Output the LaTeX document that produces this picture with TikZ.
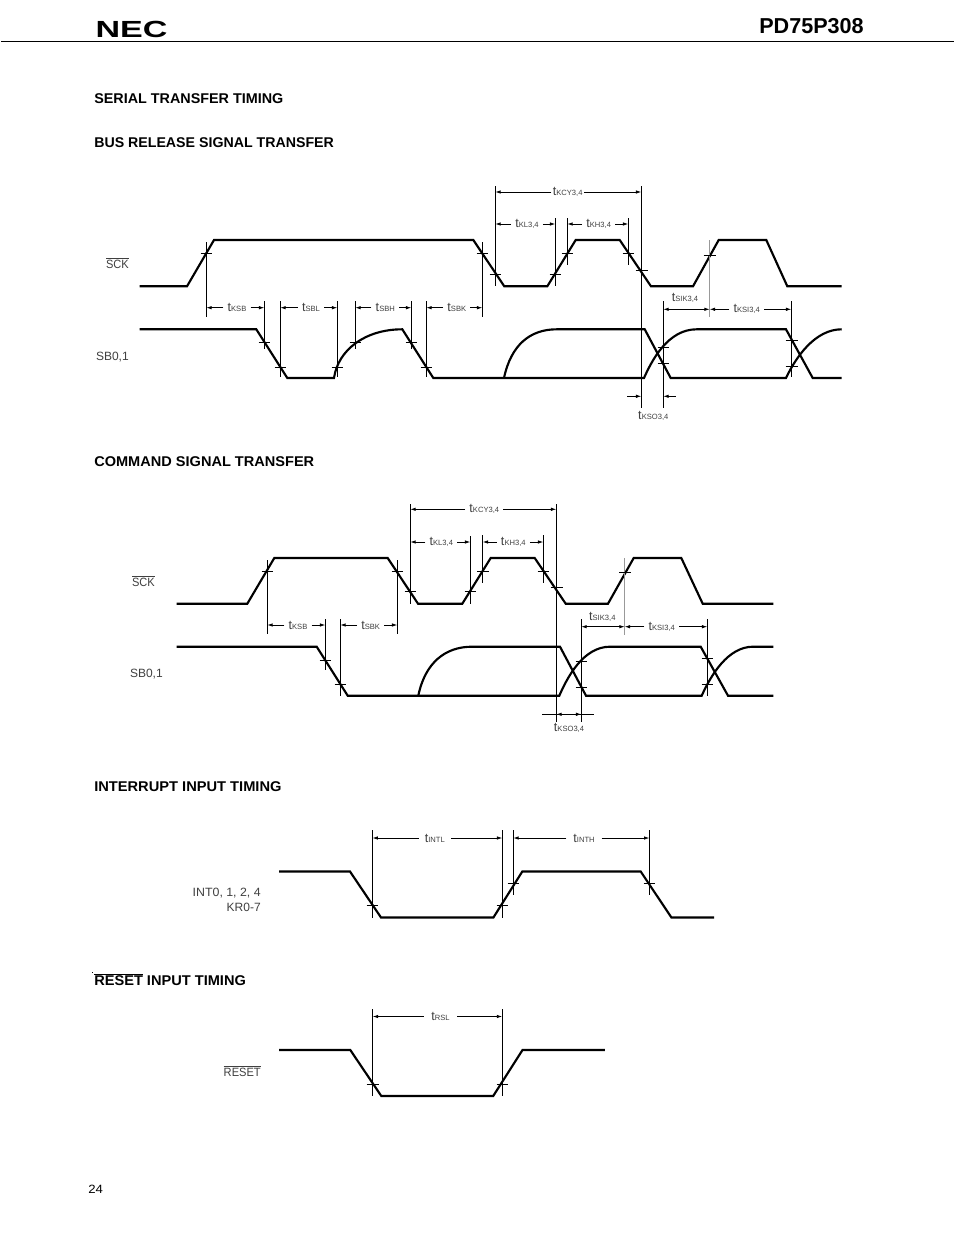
\documentclass[tikz,border=0pt]{standalone}
\usepackage{fontspec}
\setmainfont{Liberation Sans}
\usepackage{tikz}
\usetikzlibrary{arrows.meta}
\tikzstyle{waveLine}=[line width=1.6pt, line join=miter]
\tikzstyle{guideLine}=[line width=0.6pt]
\tikzstyle{grayLine}=[line width=1.1pt, draw=black!40]
\tikzstyle{dimLine}=[line width=0.6pt, ->, >={Latex[length=4pt,width=2.6pt]}]
\tikzstyle{bothLine}=[line width=0.6pt, <->, >={Latex[length=4pt,width=2.6pt]}]
\tikzstyle{timeLabel}=[inner xsep=3pt, inner ysep=0pt, text=black!75, font=\fontsize{9.5}{11}\selectfont]
\tikzstyle{sigLabel}=[inner sep=0pt, text=black!75, font=\fontsize{9}{11}\selectfont]
\tikzstyle{headLabel}=[inner sep=0pt, anchor=west, font=\fontsize{10.6}{12}\selectfont\bfseries]
\newcommand{\tSub}[1]{t{\fontsize{5.7}{6}\selectfont #1}}

\begin{document}
\begin{tikzpicture}[x=0.75pt, y=-0.75pt]
\useasboundingbox[fill=white] (0,0) rectangle (954,1235);

\node (necLogo) [inner sep=0pt, xscale=1.46, font=\fontsize{17.5}{19}\selectfont\bfseries] at (131.5,29.5) {NEC};
\node (partNo) [inner sep=0pt, anchor=east, font=\fontsize{16.2}{18}\selectfont\bfseries] at (864,26.5) {PD75P308};
\coordinate (ruleL) at (1,41.5);
\coordinate (ruleR) at (954,41.5);
\draw[guideLine] (ruleL) -- (ruleR);

\node (serialHead) [headLabel, xscale=1.016] at (94,99) {SERIAL TRANSFER TIMING};
\node (busHead) [headLabel, xscale=1.004] at (94,143) {BUS RELEASE SIGNAL TRANSFER};
\node (cmdHead) [headLabel, xscale=1.03] at (94,462) {COMMAND SIGNAL TRANSFER};
\node (intHead) [headLabel, xscale=1.037] at (94,787) {INTERRUPT INPUT TIMING};
\node (rstHead) [headLabel, xscale=1.033] at (94,979.5) {$\overline{\hbox{RESET}}$ INPUT TIMING};
\fill (91.5,971.5) rectangle (92.5,972.5);
\node (pageNo) [sigLabel, anchor=west, text=black, xscale=1.1] at (88,1189) {24};

\node (sckA) [sigLabel, anchor=east, xscale=0.92] at (129,263.5) {$\overline{\hbox{SCK}}$};
\node (sbA) [sigLabel, anchor=east] at (129,357) {SB0,1};
\draw[waveLine] (139.5,286.3) -- (187,286.3) -- (214,240) -- (473.3,240) -- (504.3,286.3) -- (547.3,286.3) -- (575.7,240) -- (619.7,240) -- (651,286.3) -- (693,286.3) -- (718.7,240) -- (766.3,240) -- (787.3,286.3) -- (841.7,286.3);
\draw[waveLine] (139.5,329.3) -- (256.3,329.3) -- (287.3,378) -- (334,378) .. controls (338,350) and (365,329.3) .. (402.3,329.3) -- (433.3,378) -- (644,378) .. controls (652,360) and (668,329.3) .. (696.7,329.3) -- (786,329.3) -- (812.7,378) -- (841.7,378);
\draw[waveLine] (504,378) .. controls (511,345) and (530,329.3) .. (556.7,329.3) -- (644.7,329.3) -- (670.7,378) -- (786,378) .. controls (796,357) and (815,329.3) .. (841.7,329.3);

\draw[guideLine] (206.3,242) -- (206.3,316.7) (200.5,253) -- (212,253);
\draw[guideLine] (264.3,301) -- (264.3,349.3) (258.5,342.3) -- (270,342.3);
\draw[guideLine] (280.3,301) -- (280.3,377.3) (274.5,367.3) -- (286,367.3);
\draw[guideLine] (337.3,301) -- (337.3,377.3) (331.5,367.3) -- (343,367.3);
\draw[guideLine] (355.3,301) -- (355.3,349.3) (349.5,342.3) -- (361,342.3);
\draw[guideLine] (411.3,301) -- (411.3,349.3) (405.5,342.3) -- (417,342.3);
\draw[guideLine] (426.3,301) -- (426.3,377.3) (420.5,367.3) -- (432,367.3);
\draw[guideLine] (482.3,242) -- (482.3,316.7) (476.5,253) -- (488,253);
\draw[guideLine] (495.3,186) -- (495.3,286) (489.5,274.3) -- (501,274.3);
\draw[guideLine] (555.3,218) -- (555.3,286) (549.5,274.3) -- (561,274.3);
\draw[guideLine] (567.3,218) -- (567.3,265) (561.5,253) -- (573,253);
\draw[guideLine] (628.3,218) -- (628.3,265) (622.5,253) -- (634,253);
\draw[guideLine] (641.3,186) -- (641.3,408.3) (635.5,270) -- (647.5,270);
\draw[grayLine] (709.7,240) -- (709.7,316.7);
\draw[guideLine] (703.5,255.7) -- (716,255.7);
\draw[guideLine] (663.3,301) -- (663.3,408.3) (657.5,347.3) -- (669,347.3) (657.5,363.3) -- (669,363.3);
\draw[guideLine] (791.3,301) -- (791.3,377.3) (785.5,340.3) -- (797.5,340.3) (785.5,366.3) -- (797.5,366.3);

\coordinate (kcyAL) at (495.3,192);
\coordinate (kcyAR) at (641.3,192);
\path (kcyAL)+(72.4,0) node (tKcyA) [timeLabel, inner xsep=1pt] {\tSub{KCY3,4}};
\draw[dimLine] (tKcyA) -- (kcyAL);
\draw[dimLine] (tKcyA) -- (kcyAR);
\coordinate (klAL) at (495.3,224);
\coordinate (klAR) at (555.3,224);
\path (klAL)+(31.7,0) node (tKlA) [timeLabel] {\tSub{KL3,4}};
\draw[dimLine] (tKlA) -- (klAL);
\draw[dimLine] (tKlA) -- (klAR);
\coordinate (khAL) at (567.3,224);
\coordinate (khAR) at (628.3,224);
\path (khAL)+(31.4,0) node (tKhA) [timeLabel] {\tSub{KH3,4}};
\draw[dimLine] (tKhA) -- (khAL);
\draw[dimLine] (tKhA) -- (khAR);
\coordinate (ksbAL) at (206.3,307.7);
\coordinate (ksbAR) at (264.3,307.7);
\path (ksbAL)+(30.7,0) node (tKsbA) [timeLabel] {\tSub{KSB}};
\draw[dimLine] (tKsbA) -- (ksbAL);
\draw[dimLine] (tKsbA) -- (ksbAR);
\coordinate (sblAL) at (280.3,307.7);
\coordinate (sblAR) at (337.3,307.7);
\path (sblAL)+(30.7,0) node (tSblA) [timeLabel] {\tSub{SBL}};
\draw[dimLine] (tSblA) -- (sblAL);
\draw[dimLine] (tSblA) -- (sblAR);
\coordinate (sbhAL) at (355.3,307.7);
\coordinate (sbhAR) at (411.3,307.7);
\path (sbhAL)+(30,0) node (tSbhA) [timeLabel] {\tSub{SBH}};
\draw[dimLine] (tSbhA) -- (sbhAL);
\draw[dimLine] (tSbhA) -- (sbhAR);
\coordinate (sbkAL) at (426.3,307.7);
\coordinate (sbkAR) at (482.3,307.7);
\path (sbkAL)+(30.5,0) node (tSbkA) [timeLabel] {\tSub{SBK}};
\draw[dimLine] (tSbkA) -- (sbkAL);
\draw[dimLine] (tSbkA) -- (sbkAR);
\coordinate (sikAL) at (663.3,309.3);
\coordinate (sikAR) at (709.7,309.3);
\draw[bothLine] (sikAL) -- (sikAR);
\path (sikAL)+(21.7,-11) node (tSikA) [timeLabel] {\tSub{SIK3,4}};
\coordinate (ksiAL) at (709.7,309.3);
\coordinate (ksiAR) at (791.3,309.3);
\path (ksiAL)+(37,0) node (tKsiA) [timeLabel] {\tSub{KSI3,4}};
\draw[dimLine] (tKsiA) -- (ksiAL);
\draw[dimLine] (tKsiA) -- (ksiAR);
\coordinate (ksoAO) at (627,396.3);
\coordinate (ksoAL) at (641.3,396.3);
\coordinate (ksoAR) at (663.3,396.3);
\coordinate (ksoAE) at (675.7,396.3);
\draw[dimLine] (ksoAO) -- (ksoAL);
\draw[dimLine] (ksoAE) -- (ksoAR);
\path (ksoAL)+(12,19.5) node (tKsoA) [timeLabel] {\tSub{KSO3,4}};

\node (sckB) [sigLabel, anchor=east, xscale=0.92] at (155,581) {$\overline{\hbox{SCK}}$};
\node (sbB) [sigLabel, anchor=east] at (163,674.5) {SB0,1};
\draw[waveLine] (176.7,603.7) -- (247.3,603.7) -- (274.3,558) -- (387.7,558) -- (418,603.7) -- (462.3,603.7) -- (490.7,558) -- (534.7,558) -- (565.7,603.7) -- (608,603.7) -- (633.7,558) -- (681.3,558) -- (702.7,603.7) -- (773.3,603.7);
\draw[waveLine] (176.7,646.7) -- (316.7,646.7) -- (347.7,695.7) -- (559.3,695.7) .. controls (567,678) and (583,646.7) .. (610,646.7) -- (700.7,646.7) -- (728,695.7) -- (773.3,695.7);
\draw[waveLine] (418.3,695.7) .. controls (425,663) and (445,646.7) .. (472,646.7) -- (560,646.7) -- (586,695.7) -- (701.7,695.7) .. controls (711,675) and (728,646.7) .. (753,646.7) -- (773.3,646.7);

\draw[guideLine] (267.3,560) -- (267.3,634.3) (261.5,571) -- (273,571);
\draw[guideLine] (325.3,619.3) -- (325.3,670) (319.5,660.7) -- (331,660.7);
\draw[guideLine] (340.3,619.3) -- (340.3,695.7) (334.5,684.3) -- (346,684.3);
\draw[guideLine] (397.3,560) -- (397.3,634.3) (391.5,571) -- (403,571);
\draw[guideLine] (410.3,504) -- (410.3,603.7) (404.5,591) -- (416,591);
\draw[guideLine] (470.3,536) -- (470.3,603.7) (464.5,591) -- (476,591);
\draw[guideLine] (482.7,535) -- (482.7,583) (477,571) -- (488.5,571);
\draw[guideLine] (543.3,535) -- (543.3,583) (537.5,571) -- (549,571);
\draw[guideLine] (556.3,504) -- (556.3,722.3) (550.5,587.3) -- (562.5,587.3);
\draw[grayLine] (624.7,558) -- (624.7,634.7);
\draw[guideLine] (619,572) -- (631,572);
\draw[guideLine] (581.3,619) -- (581.3,722.3) (575.5,661) -- (587,661) (575.5,687.3) -- (587,687.3);
\draw[guideLine] (707.3,619) -- (707.3,695.7) (701.5,658.3) -- (713,658.3) (701.5,684.3) -- (713,684.3);

\coordinate (kcyBL) at (410.3,509.3);
\coordinate (kcyBR) at (556.3,509.3);
\path (kcyBL)+(74,0) node (tKcyB) [timeLabel] {\tSub{KCY3,4}};
\draw[dimLine] (tKcyB) -- (kcyBL);
\draw[dimLine] (tKcyB) -- (kcyBR);
\coordinate (klBL) at (410.3,542);
\coordinate (klBR) at (470.3,542);
\path (klBL)+(31,0) node (tKlB) [timeLabel] {\tSub{KL3,4}};
\draw[dimLine] (tKlB) -- (klBL);
\draw[dimLine] (tKlB) -- (klBR);
\coordinate (khBL) at (482.7,542);
\coordinate (khBR) at (543.3,542);
\path (khBL)+(30.6,0) node (tKhB) [timeLabel] {\tSub{KH3,4}};
\draw[dimLine] (tKhB) -- (khBL);
\draw[dimLine] (tKhB) -- (khBR);
\coordinate (ksbBL) at (267.3,625);
\coordinate (ksbBR) at (325.3,625);
\path (ksbBL)+(30.7,0) node (tKsbB) [timeLabel] {\tSub{KSB}};
\draw[dimLine] (tKsbB) -- (ksbBL);
\draw[dimLine] (tKsbB) -- (ksbBR);
\coordinate (sbkBL) at (340.3,625);
\coordinate (sbkBR) at (397.3,625);
\path (sbkBL)+(30.4,0) node (tSbkB) [timeLabel] {\tSub{SBK}};
\draw[dimLine] (tSbkB) -- (sbkBL);
\draw[dimLine] (tSbkB) -- (sbkBR);
\coordinate (sikBL) at (581.3,626.7);
\coordinate (sikBR) at (624.7,626.7);
\draw[bothLine] (sikBL) -- (sikBR);
\path (sikBL)+(21,-10) node (tSikB) [timeLabel] {\tSub{SIK3,4}};
\coordinate (ksiBL) at (624.7,626.7);
\coordinate (ksiBR) at (707.3,626.7);
\path (ksiBL)+(37,0) node (tKsiB) [timeLabel] {\tSub{KSI3,4}};
\draw[dimLine] (tKsiB) -- (ksiBL);
\draw[dimLine] (tKsiB) -- (ksiBR);
\coordinate (ksoBO) at (542,714.3);
\coordinate (ksoBL) at (556.3,714.3);
\coordinate (ksoBR) at (581.3,714.3);
\coordinate (ksoBE) at (593.7,714.3);
\draw[guideLine] (ksoBO) -- (ksoBE);
\draw[bothLine] (ksoBL) -- (ksoBR);
\path (ksoBL)+(12.7,14) node (tKsoB) [timeLabel] {\tSub{KSO3,4}};

\node (intLbl) [sigLabel, anchor=east, xscale=1.03] at (261,893.5) {INT0, 1, 2, 4};
\node (krLbl) [sigLabel, anchor=east] at (261,907.5) {KR0-7};
\draw[waveLine] (279,871.5) -- (350,871.5) -- (381,917.5) -- (493.4,917.5) -- (522.3,871.5) -- (640.7,871.5) -- (671.4,917.5) -- (714,917.5);
\draw[guideLine] (372.5,830) -- (372.5,917.5) (366.5,905) -- (378,905);
\draw[guideLine] (502.3,830) -- (502.3,917.5) (496.5,905) -- (508,905);
\draw[guideLine] (513.3,830) -- (513.3,895) (507.5,883.5) -- (519,883.5);
\draw[guideLine] (649.4,830) -- (649.4,895) (643.5,883.5) -- (655,883.5);
\coordinate (intlL) at (372.5,838);
\coordinate (intlR) at (502.3,838);
\path (intlL)+(62.3,0) node (tIntl) [timeLabel, inner xsep=4.5pt] {\tSub{INTL}};
\draw[dimLine] (tIntl) -- (intlL);
\draw[dimLine] (tIntl) -- (intlR);
\coordinate (inthL) at (513.3,838);
\coordinate (inthR) at (649.4,838);
\path (inthL)+(70.7,0) node (tInth) [timeLabel, inner xsep=5pt] {\tSub{INTH}};
\draw[dimLine] (tInth) -- (inthL);
\draw[dimLine] (tInth) -- (inthR);

\node (rstLbl) [sigLabel, anchor=east, xscale=0.925] at (261,1071) {$\overline{\hbox{RESET}}$};
\draw[waveLine] (279,1050) -- (350.3,1050) -- (381.3,1096) -- (493.2,1096) -- (522.5,1050) -- (604.8,1050);
\draw[guideLine] (372.7,1009) -- (372.7,1096) (366.7,1084) -- (378.5,1084);
\draw[guideLine] (502.2,1009) -- (502.2,1096) (496.5,1084) -- (508,1084);
\coordinate (rslL) at (372.7,1016.5);
\coordinate (rslR) at (502.2,1016.5);
\path (rslL)+(67.8,0) node (tRsl) [timeLabel, inner xsep=5.5pt] {\tSub{RSL}};
\draw[dimLine] (tRsl) -- (rslL);
\draw[dimLine] (tRsl) -- (rslR);
\end{tikzpicture}
\end{document}
